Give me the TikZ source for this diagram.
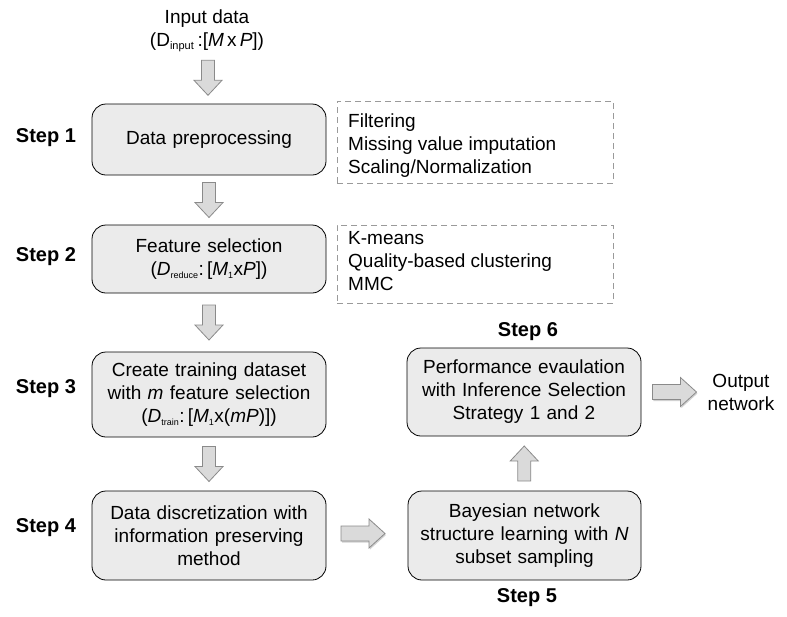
\documentclass[tikz,border=0pt]{standalone}
\usepackage{fontspec}
\setmainfont{Liberation Sans}
\usetikzlibrary{calc}
\definecolor{boxgray}{HTML}{EBEBEB}
\definecolor{arrfill}{HTML}{DADADA}
\definecolor{arrdraw}{HTML}{8A8A8A}
\definecolor{dashgray}{HTML}{9A9A9A}
\newcommand{\mfs}{\fontsize{19}{23}\selectfont}
\newcommand{\sfs}{\fontsize{20}{24}\selectfont\bfseries}
\newcommand{\sbx}[1]{\textsubscript{\fontsize{11}{11}\selectfont #1}}
\newcommand{\sbs}[1]{\textsubscript{\fontsize{9}{9}\selectfont #1}}
\begin{document}
\begin{tikzpicture}[x=1pt,y=-1pt,
  stepbox/.style={draw=black, line width=0.8pt, fill=boxgray, rounded corners=14pt,
    align=center, inner sep=0pt, font=\mfs, text width=228pt},
  notebox/.style={draw=dashgray, line width=0.8pt, dash pattern=on 6pt off 4pt, inner sep=0pt},
  notetext/.style={anchor=west, align=left, inner sep=0pt, font=\mfs},
  steplabel/.style={inner sep=0pt, font=\sfs},
  plain/.style={inner sep=0pt, align=center, font=\mfs},
  arrowsty/.style={fill=arrfill, draw=arrdraw, line width=0.8pt, line join=miter},
  shadowsty/.style={fill=black, opacity=0.18},
  varrow/.pic={\path[arrowsty] (-17.5,-6.5) -- (2.5,-6.5) -- (2.5,-14) -- (17.5,0) -- (2.5,14) -- (2.5,6.5) -- (-17.5,6.5) -- cycle;},
  harrow/.pic={
    \path[shadowsty] (-21,-6) -- (7,-6) -- (7,-13) -- (23,1.5) -- (7,16) -- (7,9) -- (-21,9) -- cycle;
    \path[arrowsty] (-22,-7.5) -- (6,-7.5) -- (6,-14.5) -- (22,0) -- (6,14.5) -- (6,7.5) -- (-22,7.5) -- cycle;}
]
\useasboundingbox (0,0) rectangle (787,616);

% input
\node[plain] (in) at (207,31) {Input data\\(D\sbx{input}\,:[\textit{M}\,x\,\textit{P}])};

% main boxes
\node[stepbox, minimum width=234pt, minimum height=71pt] (b1) at (209,139.5) {Data preprocessing};
\node[stepbox, minimum width=234pt, minimum height=68pt] (b2) at (209,259)
  {Feature selection\\(\textit{D}\sbs{reduce}:\,[\textit{M}\sbs{1}x\textit{P}])};
\node[stepbox, minimum width=234pt, minimum height=85pt] (b3) at (209,394.5)
  {Create training dataset\\with \textit{m} feature selection\\(\textit{D}\sbs{train}:\,[\textit{M}\sbs{1}x(\textit{mP})])};
\node[stepbox, minimum width=234pt, minimum height=89pt] (b4) at (209,535.5)
  {Data discretization with\\information preserving\\method};
\node[stepbox, minimum width=233pt, minimum height=89pt] (b5) at (524.5,535.5)
  {Bayesian network\\structure learning with \textit{N}\\subset sampling};
\node[stepbox, minimum width=234pt, minimum height=88pt] (b6) at (524,392)
  {Performance evaulation\\with Inference Selection\\Strategy 1 and 2};

% output
\node[plain] (out) at (741,392) {Output\\network};

% notes
\node[notebox, minimum width=276pt, minimum height=82pt] (d1) at (475,142) {};
\node[notetext] (d1t) at (348,146) {Filtering\\Missing value imputation\\Scaling/Normalization};
\node[notebox, minimum width=276pt, minimum height=78pt] (d2) at (475,264) {};
\node[notetext] (d2t) at (348,261) {K-means\\Quality-based clustering\\MMC};

% step labels
\node[steplabel] (s1) at (46,138) {Step 1};
\node[steplabel] (s2) at (46,257) {Step 2};
\node[steplabel] (s3) at (46,389) {Step 3};
\node[steplabel] (s4) at (46,528) {Step 4};
\node[steplabel] (s5) at (527,598) {Step 5};
\node[steplabel] (s6) at (528,332) {Step 6};

% block arrows
\pic[rotate=-90] at ($(in.south)!0.5!(b1.north)$) {varrow};
\pic[rotate=-90] at ($(b1.south)!0.5!(b2.north)$) {varrow};
\pic[rotate=-90] at ($(b2.south)!0.5!(b3.north)$) {varrow};
\pic[rotate=-90] at ($(b3.south)!0.5!(b4.north)$) {varrow};
\pic at ($(b4.east)!0.5!(b5.west)+(-4,-2)$) {harrow};
\pic[rotate=90] at ($(b5.north)!0.5!(b6.south)$) {varrow};
\pic at ($(b6.east)!0.5!(out.west)$) {harrow};
\end{tikzpicture}
\end{document}
